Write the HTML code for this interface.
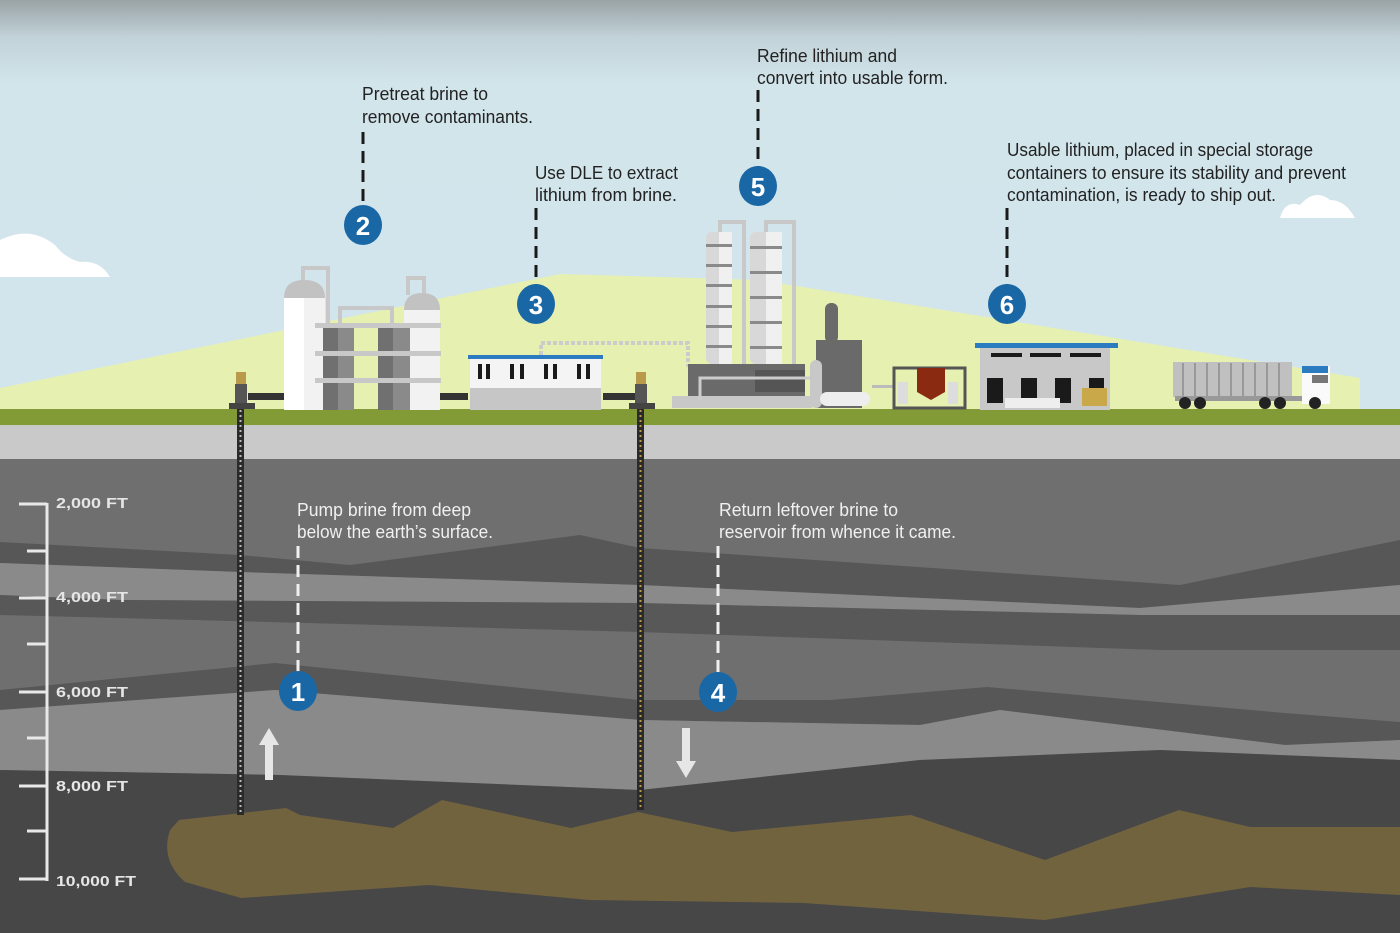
<!DOCTYPE html>
<html><head><meta charset="utf-8"><style>
html,body{margin:0;padding:0;width:1400px;height:933px;overflow:hidden;background:#6e6e6e}
svg{display:block}
.t{font-family:"Liberation Sans Narrow","Liberation Sans",sans-serif;font-size:18px;fill:#222}
.w{fill:#f0f0f0}
.ft{font-family:"Liberation Sans",sans-serif;font-weight:bold;font-size:15px;fill:#e6e6e6}
.n{font-family:"Liberation Sans",sans-serif;font-weight:bold;font-size:26px;fill:#fff}
</style></head><body>
<svg width="1400" height="933" viewBox="0 0 1400 933" xmlns="http://www.w3.org/2000/svg">
<defs>
<linearGradient id="sky" x1="0" y1="0" x2="0" y2="1">
<stop offset="0" stop-color="#9aa3a6"/><stop offset="0.09" stop-color="#c2d3d9"/><stop offset="0.2" stop-color="#d2e5eb"/><stop offset="1" stop-color="#d3e5ec"/>
</linearGradient>
</defs>
<rect x="0" y="0" width="1400" height="420" fill="url(#sky)"/>
<path d="M0,277 L0,240 Q30,225 55,245 Q65,258 80,262 Q100,260 110,277 Z" fill="#fff"/>
<path d="M1280,218 Q1285,200 1300,205 Q1315,188 1330,200 Q1345,200 1355,218 Z" fill="#fff"/>
<polygon points="0,388 560,274 760,280 1360,378 1360,420 0,420" fill="#e6f0b0"/>
<rect x="0" y="409" width="1400" height="16" fill="#829b37"/>
<rect x="0" y="425" width="1400" height="34" fill="#c9c9c9"/>
<rect x="0" y="459" width="1400" height="474" fill="#6f6f6f"/>
<polygon points="0,542 240,555 350,565 580,535 640,548 1180,585 1400,540 1400,585 1140,608 640,585 240,572 0,563" fill="#575757"/>
<polygon points="0,563 240,572 640,585 1140,608 1400,585 1400,615 1140,615 640,603 120,600 0,595" fill="#8a8a8a"/>
<polygon points="0,595 120,600 640,603 1140,615 1400,615 1400,650 1160,650 640,632 120,618 0,615" fill="#585858"/>
<polygon points="0,690 275,663 640,700 830,700 987,687 1285,713 1400,722 1400,740 1285,745 1000,710 920,725 640,720 275,690 0,710" fill="#575757"/>
<polygon points="0,710 275,690 640,720 920,725 1000,710 1285,745 1400,740 1400,760 1160,750 920,760 640,790 280,775 0,770" fill="#8a8a8a"/>
<polygon points="0,770 280,775 640,790 920,760 1160,750 1400,760 1400,933 0,933" fill="#474747"/>
<path d="M179,820 L286,808 L300,815 L393,828 L442,800 L571,828 L638,812 L732,832 L911,815 L1045,860 L1179,810 L1250,827 L1400,827 L1400,895 L1250,887 L1045,920 L804,903 L589,900 L429,885 L241,898 L185,882 Q160,860 170,830 Z" fill="#72633f"/>
<g stroke="#e8e8e8" stroke-width="3" fill="none">
<line x1="47" y1="503" x2="47" y2="881"/>
<line x1="19" y1="504" x2="47" y2="504"/><line x1="27" y1="551" x2="47" y2="551"/>
<line x1="19" y1="598" x2="47" y2="598"/><line x1="27" y1="644" x2="47" y2="644"/>
<line x1="19" y1="692" x2="47" y2="692"/><line x1="27" y1="738" x2="47" y2="738"/>
<line x1="19" y1="786" x2="47" y2="786"/><line x1="27" y1="831" x2="47" y2="831"/>
<line x1="19" y1="879" x2="47" y2="879"/>
</g>
<text class="ft" x="56" y="508" textLength="72" lengthAdjust="spacingAndGlyphs">2,000 FT</text>
<text class="ft" x="56" y="602" textLength="72" lengthAdjust="spacingAndGlyphs">4,000 FT</text>
<text class="ft" x="56" y="697" textLength="72" lengthAdjust="spacingAndGlyphs">6,000 FT</text>
<text class="ft" x="56" y="791" textLength="72" lengthAdjust="spacingAndGlyphs">8,000 FT</text>
<text class="ft" x="56" y="886" textLength="80" lengthAdjust="spacingAndGlyphs">10,000 FT</text>
<rect x="237" y="405" width="7" height="410" fill="#2a2a2a"/>
<line x1="240.5" y1="405" x2="240.5" y2="815" stroke="#bbb" stroke-width="2" stroke-dasharray="2 3"/>
<rect x="637" y="405" width="7" height="405" fill="#2a2a2a"/>
<line x1="640.5" y1="405" x2="640.5" y2="810" stroke="#b89a4a" stroke-width="2" stroke-dasharray="2 3"/>
<polygon points="269,728 279,745 273,745 273,780 265,780 265,745 259,745" fill="#e6e6e6"/>
<polygon points="686,778 696,761 690,761 690,728 682,728 682,761 676,761" fill="#e6e6e6"/>
<g>
<path d="M303,280 V268 H328 V330" stroke="#c8c8c8" stroke-width="4" fill="none"/>
<path d="M408,295 V278 H424 V300" stroke="#c8c8c8" stroke-width="4" fill="none"/>
<path d="M340,330 V308 H392 V330" stroke="#c8c8c8" stroke-width="4" fill="none"/>
<path d="M284,298 Q284,280 304,280 Q325,280 325,298 Z" fill="#c2c2c2"/>
<rect x="284" y="298" width="41" height="112" fill="#f2f2f2"/><rect x="284" y="298" width="20" height="112" fill="#fff"/>
<path d="M404,310 Q404,293 422,293 Q440,293 440,310 Z" fill="#c2c2c2"/>
<rect x="404" y="310" width="36" height="100" fill="#f2f2f2"/>
<rect x="323" y="325" width="31" height="85" fill="#8a8a8a"/><rect x="323" y="325" width="15" height="85" fill="#707070"/>
<rect x="378" y="325" width="32" height="85" fill="#8a8a8a"/><rect x="378" y="325" width="15" height="85" fill="#707070"/>
<rect x="315" y="323" width="126" height="5" fill="#c8c8c8"/>
<rect x="315" y="351" width="126" height="5" fill="#c8c8c8"/>
<rect x="315" y="378" width="126" height="5" fill="#c8c8c8"/>
</g>
<rect x="248" y="393" width="36" height="7" fill="#333"/><rect x="440" y="393" width="28" height="7" fill="#333"/><rect x="603" y="393" width="34" height="7" fill="#333"/>
<rect x="236" y="372" width="10" height="12" fill="#b89a4a"/><rect x="235" y="384" width="12" height="20" fill="#555"/><rect x="229" y="403" width="26" height="6" fill="#444"/>
<rect x="636" y="372" width="10" height="12" fill="#b89a4a"/><rect x="635" y="384" width="12" height="20" fill="#555"/><rect x="629" y="403" width="26" height="6" fill="#444"/>
<path d="M541,355 V343 H688 V365 L700,375" stroke="#ccc" stroke-width="4" fill="none" stroke-dasharray="4 2"/>
<rect x="468" y="355" width="135" height="4" fill="#2a7bbf"/>
<rect x="470" y="359" width="131" height="30" fill="#f4f4f4"/>
<rect x="470" y="388" width="131" height="22" fill="#c6c6c6"/>
<g fill="#1a1a1a"><rect x="478" y="364" width="4" height="15"/><rect x="486" y="364" width="4" height="15"/><rect x="510" y="364" width="4" height="15"/><rect x="520" y="364" width="4" height="15"/><rect x="544" y="364" width="4" height="15"/><rect x="553" y="364" width="4" height="15"/><rect x="577" y="364" width="4" height="15"/><rect x="586" y="364" width="4" height="15"/></g>
<path d="M720,232 V222 H744 V365" stroke="#c8c8c8" stroke-width="4" fill="none"/>
<path d="M766,232 V222 H794 V365" stroke="#c8c8c8" stroke-width="4" fill="none"/>
<rect x="706" y="232" width="26" height="132" rx="6" fill="#d8d8d8"/><rect x="719" y="232" width="13" height="132" fill="#f0f0f0"/>
<rect x="750" y="232" width="32" height="132" rx="6" fill="#d8d8d8"/><rect x="766" y="232" width="16" height="132" fill="#f0f0f0"/>
<g fill="#8a8a8a"><rect x="706" y="244" width="26" height="3"/><rect x="706" y="264" width="26" height="3"/><rect x="706" y="284" width="26" height="3"/><rect x="706" y="305" width="26" height="3"/><rect x="706" y="325" width="26" height="3"/><rect x="706" y="345" width="26" height="3"/>
<rect x="750" y="246" width="32" height="3"/><rect x="750" y="271" width="32" height="3"/><rect x="750" y="296" width="32" height="3"/><rect x="750" y="321" width="32" height="3"/><rect x="750" y="346" width="32" height="3"/></g>
<rect x="688" y="364" width="117" height="44" fill="#6a6a6a"/>
<rect x="755" y="370" width="50" height="22" fill="#555"/>
<rect x="672" y="396" width="140" height="12" fill="#c8c8c8"/>
<path d="M700,400 V378 H812" stroke="#ccc" stroke-width="3" fill="none"/>
<rect x="825" y="303" width="13" height="40" rx="6" fill="#6a6a6a"/>
<rect x="816" y="340" width="46" height="68" fill="#6a6a6a"/>
<rect x="810" y="360" width="12" height="48" rx="6" fill="#c8c8c8"/>
<rect x="820" y="392" width="50" height="14" rx="7" fill="#eee"/>
<rect x="872" y="385" width="22" height="3" fill="#bbb"/>
<rect x="894" y="368" width="71" height="40" fill="none" stroke="#555" stroke-width="3"/>
<path d="M917,368 H945 V392 L931,400 L917,392 Z" fill="#8a2a10"/>
<rect x="898" y="382" width="10" height="22" fill="#ddd"/><rect x="948" y="382" width="10" height="22" fill="#ddd"/>
<rect x="975" y="343" width="143" height="5" fill="#2a7bbf"/>
<rect x="980" y="348" width="130" height="62" fill="#c8c8c8"/>
<g fill="#1a1a1a"><rect x="991" y="353" width="31" height="4"/><rect x="1030" y="353" width="31" height="4"/><rect x="1070" y="353" width="31" height="4"/>
<rect x="987" y="378" width="16" height="25"/><rect x="1021" y="378" width="16" height="25"/><rect x="1055" y="378" width="16" height="25"/><rect x="1089" y="378" width="15" height="25"/></g>
<rect x="1005" y="398" width="55" height="10" fill="#eee"/>
<rect x="1082" y="388" width="25" height="18" fill="#c8a848"/>
<rect x="1173" y="362" width="119" height="35" fill="#c0c0c0"/>
<g stroke="#999" stroke-width="2"><line x1="1183" y1="363" x2="1183" y2="396"/><line x1="1195" y1="363" x2="1195" y2="396"/><line x1="1207" y1="363" x2="1207" y2="396"/><line x1="1219" y1="363" x2="1219" y2="396"/><line x1="1231" y1="363" x2="1231" y2="396"/><line x1="1243" y1="363" x2="1243" y2="396"/><line x1="1255" y1="363" x2="1255" y2="396"/><line x1="1267" y1="363" x2="1267" y2="396"/><line x1="1279" y1="363" x2="1279" y2="396"/></g>
<rect x="1175" y="396" width="130" height="5" fill="#999"/>
<rect x="1302" y="366" width="28" height="38" fill="#fafafa"/><rect x="1302" y="366" width="26" height="7" fill="#2a7bbf"/><rect x="1312" y="375" width="16" height="8" fill="#777"/>
<g fill="#222"><circle cx="1185" cy="403" r="6"/><circle cx="1200" cy="403" r="6"/><circle cx="1265" cy="403" r="6"/><circle cx="1280" cy="403" r="6"/><circle cx="1315" cy="403" r="6"/></g>
<g stroke="#1a1a1a" stroke-width="3" stroke-dasharray="12 7" fill="none">
<line x1="363" y1="132" x2="363" y2="206"/>
<line x1="536" y1="208" x2="536" y2="286"/>
<line x1="758" y1="90" x2="758" y2="168"/>
<line x1="1007" y1="208" x2="1007" y2="286"/>
</g>
<g stroke="#f0f0f0" stroke-width="3" stroke-dasharray="12 7" fill="none">
<line x1="298" y1="546" x2="298" y2="672"/>
<line x1="718" y1="546" x2="718" y2="673"/>
</g>
<g fill="#1a67a6">
<ellipse cx="363" cy="225" rx="19" ry="20"/><ellipse cx="536" cy="304" rx="19" ry="20"/><ellipse cx="758" cy="186" rx="19" ry="20"/><ellipse cx="1007" cy="304" rx="19" ry="20"/><ellipse cx="298" cy="691" rx="19" ry="20"/><ellipse cx="718" cy="692" rx="19" ry="20"/>
</g>
<g class="n" text-anchor="middle">
<text x="363" y="235">2</text><text x="536" y="314">3</text><text x="758" y="196">5</text><text x="1007" y="314">6</text><text x="298" y="701">1</text><text x="718" y="702">4</text>
</g>
<text class="t" x="362" y="100" textLength="126" lengthAdjust="spacingAndGlyphs">Pretreat brine to</text>
<text class="t" x="362" y="123" textLength="171" lengthAdjust="spacingAndGlyphs">remove contaminants.</text>
<text class="t" x="535" y="179" textLength="143" lengthAdjust="spacingAndGlyphs">Use DLE to extract</text>
<text class="t" x="535" y="201" textLength="142" lengthAdjust="spacingAndGlyphs">lithium from brine.</text>
<text class="t" x="757" y="62" textLength="140" lengthAdjust="spacingAndGlyphs">Refine lithium and</text>
<text class="t" x="757" y="84" textLength="191" lengthAdjust="spacingAndGlyphs">convert into usable form.</text>
<text class="t" x="1007" y="156" textLength="306" lengthAdjust="spacingAndGlyphs">Usable lithium, placed in special storage</text>
<text class="t" x="1007" y="179" textLength="339" lengthAdjust="spacingAndGlyphs">containers to ensure its stability and prevent</text>
<text class="t" x="1007" y="201" textLength="269" lengthAdjust="spacingAndGlyphs">contamination, is ready to ship out.</text>
<text class="t w" x="297" y="516" textLength="174" lengthAdjust="spacingAndGlyphs">Pump brine from deep</text>
<text class="t w" x="297" y="538" textLength="196" lengthAdjust="spacingAndGlyphs">below the earth’s surface.</text>
<text class="t w" x="719" y="516" textLength="179" lengthAdjust="spacingAndGlyphs">Return leftover brine to</text>
<text class="t w" x="719" y="538" textLength="237" lengthAdjust="spacingAndGlyphs">reservoir from whence it came.</text>
</svg>
</body></html>
